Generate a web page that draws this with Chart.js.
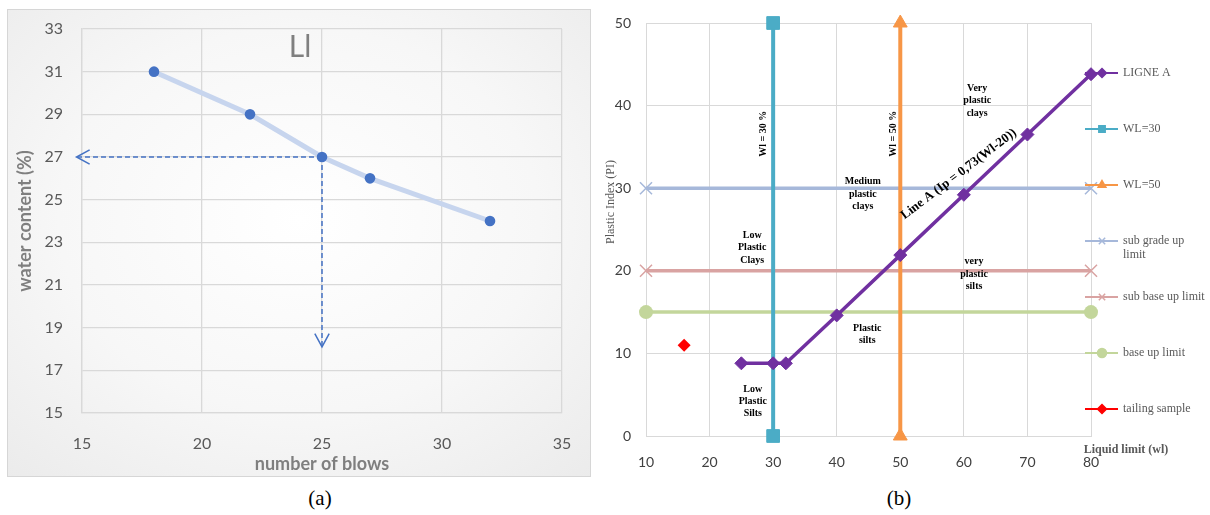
<!DOCTYPE html>
<html>
<head>
<meta charset="utf-8">
<script src="https://cdn.jsdelivr.net/npm/chart.js@4.4.1/dist/chart.umd.min.js"></script>
<style>
  html, body { margin: 0; padding: 0; background: #fff; }
  body { width: 1210px; height: 515px; position: relative; overflow: hidden; }
  #boxA {
    position: absolute; left: 7px; top: 9px; width: 584px; height: 468px;
    box-sizing: border-box; border: 1px solid #d6d6d6;
    background: radial-gradient(ellipse 75% 75% at 50% 45%, #ffffff 0%, #f7f7f7 55%, #ebebeb 100%);
  }
  #chartA { position: absolute; left: 0; top: 0; }
  #chartB { position: absolute; left: 600px; top: 0; }
  .cap { position: absolute; top: 486px; font: 21px "Liberation Serif", serif; color: #000; width: 60px; text-align: center; }
</style>
</head>
<body>
<div id="boxA"><canvas id="chartA" width="582" height="466"></canvas></div>
<canvas id="chartB" width="610" height="480"></canvas>
<div class="cap" style="left:290px">(a)</div>
<div class="cap" style="left:869px">(b)</div>
<script>
// ---- chart (a) data: liquid limit test
const blowsX = [18, 22, 25, 27, 32];
const waterY = [31, 29, 27, 26, 24];
const arrowHx = [25, 14.77];
const arrowHy = [27, 27];
const arrowVx = [25, 25];
const arrowVy = [27, 18.1];

// ---- chart (b) data: plasticity chart
const ligneAx = [25, 30, 32, 40, 50, 60, 70, 80];
const ligneAy = [8.8, 8.8, 8.8, 14.6, 21.9, 29.2, 36.5, 43.8];
const wl30x = [30, 30];
const wl30y = [0, 50];
const wl50x = [50, 50];
const wl50y = [0, 50];
const limitX = [10, 80];
const subGradeY = [30, 30];
const subBaseY = [20, 20];
const baseY = [15, 15];
const tailingX = [16];
const tailingY = [11];

const pts = (xs, ys) => xs.map((x, i) => ({ x: x, y: ys[i] }));

Chart.defaults.font.family = 'Lato';
Chart.defaults.animation = false;

// gap between axis and tick labels done with invisible tick marks,
// so the label padding does not eat into the plot area
const gridOpts = (w, gap) => ({ color: '#d9d9d9', lineWidth: w, drawTicks: true, tickLength: gap, tickColor: 'rgba(0,0,0,0)' });

// title + arrow heads for (a)
const chartAExtras = {
    id: 'chartAExtras',
    afterDatasetsDraw(chart) {
        const ctx = chart.ctx;
        ctx.save();
        ctx.fillStyle = '#7f7f7f';
        ctx.font = '400 30px Lato';
        ctx.textAlign = 'center';
        ctx.textBaseline = 'middle';
        ctx.fillText('Ll', 292, 37);

        ctx.strokeStyle = '#4472c4';
        ctx.lineWidth = 1.5;
        [1, 2].forEach(function (i) {
            const p = chart.getDatasetMeta(i).data;
            const tip = p[p.length - 1], prev = p[p.length - 2];
            const ang = Math.atan2(tip.y - prev.y, tip.x - prev.x);
            const L = 15, a = 0.5;
            ctx.beginPath();
            ctx.moveTo(tip.x - L * Math.cos(ang - a), tip.y - L * Math.sin(ang - a));
            ctx.lineTo(tip.x, tip.y);
            ctx.lineTo(tip.x - L * Math.cos(ang + a), tip.y - L * Math.sin(ang + a));
            ctx.stroke();
        });
        ctx.restore();
    }
};

new Chart(document.getElementById('chartA'), {
    type: 'scatter',
    data: {
        datasets: [{
            data: pts(blowsX, waterY),
            showLine: true,
            borderColor: '#c7d5ee',
            borderWidth: 5,
            pointRadius: 5.3,
            pointBackgroundColor: '#4472c4',
            pointBorderWidth: 0
        }, {
            data: pts(arrowHx, arrowHy),
            showLine: true,
            borderColor: '#4472c4',
            borderWidth: 1.5,
            borderDash: [5, 3],
            pointRadius: 0,
            clip: false
        }, {
            data: pts(arrowVx, arrowVy),
            showLine: true,
            borderColor: '#4472c4',
            borderWidth: 1.5,
            borderDash: [5, 3],
            pointRadius: 0,
            clip: false
        }]
    },
    options: {
        responsive: false,
        devicePixelRatio: 1,
        layout: { padding: { top: 19, right: 28, left: 0, bottom: 0 } },
        plugins: { legend: { display: false }, tooltip: { enabled: false } },
        scales: {
            x: {
                type: 'linear', min: 15, max: 35,
                ticks: { stepSize: 5, padding: 0, color: '#595959', font: { size: 16 } },
                grid: gridOpts(1.3, 21),
                border: { color: '#d9d9d9', width: 1.3 },
                title: { display: true, text: 'number of blows', color: '#7f7f7f',
                    font: { size: 18, weight: 'bold' }, padding: { top: 0, bottom: 1 } },
                afterFit(s) { s.height = 63; }
            },
            y: {
                type: 'linear', min: 15, max: 33,
                ticks: { stepSize: 2, padding: 0, color: '#595959', font: { size: 16 } },
                grid: gridOpts(1.3, 19),
                border: { color: '#d9d9d9', width: 1.3 },
                title: { display: true, text: 'water content (%)', color: '#7f7f7f',
                    font: { size: 18, weight: 'bold' }, padding: { top: 6, bottom: 0 } },
                afterFit(s) { s.width = 74; }
            }
        }
    },
    plugins: [chartAExtras]
});

// zone labels, axis titles and side legend for (b)
const chartBExtras = {
    id: 'chartBExtras',
    afterDatasetsDraw(chart) {
        const ctx = chart.ctx;
        const x = chart.scales.x, y = chart.scales.y;
        ctx.save();
        ctx.fillStyle = '#000';
        ctx.textAlign = 'center';
        ctx.textBaseline = 'middle';
        ctx.font = 'bold 10px "Liberation Serif"';
        const block = function (lines, vx, vy) {
            const px = x.getPixelForValue(vx), py = y.getPixelForValue(vy);
            lines.forEach(function (t, i) {
                ctx.fillText(t, px, py + (i - (lines.length - 1) / 2) * 12.3);
            });
        };
        block(['Very', 'plastic', 'clays'], 62.1, 40.6);
        block(['Medium', 'plastic', 'clays'], 44.1, 29.3);
        block(['Low', 'Plastic', 'Clays'], 26.7, 22.8);
        block(['very', 'plastic', 'silts'], 61.6, 19.6);
        block(['Plastic', 'silts'], 44.8, 12.3);
        block(['Low', 'Plastic', 'Silts'], 26.8, 4.2);

        const rot = function (text, vx, vy, ang, font) {
            ctx.save();
            ctx.translate(x.getPixelForValue(vx), y.getPixelForValue(vy));
            ctx.rotate(ang);
            ctx.font = font;
            ctx.fillText(text, 0, 0);
            ctx.restore();
        };
        rot('Wl = 30 %', 28.4, 36.6, -Math.PI / 2, 'bold 10px "Liberation Serif"');
        rot('Wl = 50 %', 48.9, 36.6, -Math.PI / 2, 'bold 10px "Liberation Serif"');
        rot('Line A (Ip = 0,73(Wl-20))', 59.2, 31.7, -0.65, 'bold 13px "Liberation Serif"');
        ctx.restore();
    },
    afterDraw(chart) {
        const ctx = chart.ctx;
        ctx.save();
        // axis titles
        ctx.fillStyle = '#595959';
        ctx.textAlign = 'center';
        ctx.textBaseline = 'middle';
        ctx.font = 'bold 12px "Liberation Serif"';
        ctx.fillText('Liquid limit (wl)', 526, 450);
        ctx.save();
        ctx.translate(11, 202);
        ctx.rotate(-Math.PI / 2);
        ctx.font = '12px "Liberation Serif"';
        ctx.fillText('Plastic Index (PI)', 0, 0);
        ctx.restore();

        // legend
        ctx.textAlign = 'left';
        ctx.font = '12px "Liberation Serif"';
        chart.data.datasets.forEach(function (ds, i) {
            const ly = 73 + 56 * i;
            ctx.strokeStyle = ds.borderColor;
            ctx.lineWidth = 2;
            ctx.setLineDash([]);
            ctx.beginPath();
            ctx.moveTo(485, ly);
            ctx.lineTo(518, ly);
            ctx.stroke();
            ctx.fillStyle = ds.borderColor;
            ctx.lineWidth = 1.5;
            Chart.helpers.drawPoint(ctx, { pointStyle: ds.pointStyle, radius: 4.5, rotation: 0, borderWidth: 1.5 }, 502, ly);
            ctx.fillStyle = '#595959';
            // wrap long labels
            const words = ds.label.split(' ');
            const lines = [];
            let cur = '';
            words.forEach(function (w) {
                const t = cur ? cur + ' ' + w : w;
                if (ctx.measureText(t).width > 84 && cur) { lines.push(cur); cur = w; } else cur = t;
            });
            lines.push(cur);
            lines.forEach(function (t, k) { ctx.fillText(t, 523, ly + 14 * k); });
        });
        ctx.restore();
    }
};

new Chart(document.getElementById('chartB'), {
    type: 'scatter',
    data: {
        datasets: [{
            label: 'LIGNE A', data: pts(ligneAx, ligneAy), showLine: true,
            borderColor: '#7030a0', backgroundColor: '#7030a0', borderWidth: 3.5,
            pointStyle: 'rectRot', pointRadius: 6.5, pointBorderWidth: 1, clip: false
        }, {
            label: 'WL=30', data: pts(wl30x, wl30y), showLine: true,
            borderColor: '#4bacc6', backgroundColor: '#4bacc6', borderWidth: 4,
            pointStyle: 'rect', pointRadius: 9, pointBorderWidth: 1, clip: false
        }, {
            label: 'WL=50', data: pts(wl50x, wl50y), showLine: true,
            borderColor: '#f79646', backgroundColor: '#f79646', borderWidth: 4,
            pointStyle: 'triangle', pointRadius: 8, pointBorderWidth: 1, clip: false
        }, {
            label: 'sub grade up limit', data: pts(limitX, subGradeY), showLine: true,
            borderColor: '#a6b8da', backgroundColor: '#a6b8da', borderWidth: 3.5,
            pointStyle: 'crossRot', pointRadius: 8.5, pointBorderWidth: 1.5, clip: false
        }, {
            label: 'sub base up limit', data: pts(limitX, subBaseY), showLine: true,
            borderColor: '#d9a3a2', backgroundColor: '#d9a3a2', borderWidth: 3.5,
            pointStyle: 'crossRot', pointRadius: 8.5, pointBorderWidth: 1.5, clip: false
        }, {
            label: 'base up limit', data: pts(limitX, baseY), showLine: true,
            borderColor: '#c3d69b', backgroundColor: '#c3d69b', borderWidth: 3.5,
            pointStyle: 'circle', pointRadius: 7, pointBorderWidth: 0, clip: false
        }, {
            label: 'tailing sample', data: pts(tailingX, tailingY), showLine: false,
            borderColor: '#ff0000', backgroundColor: '#ff0000', borderWidth: 2,
            pointStyle: 'rectRot', pointRadius: 6.5, pointBorderWidth: 0, clip: false
        }]
    },
    options: {
        responsive: false,
        devicePixelRatio: 1,
        layout: { padding: { top: 23, right: 119, left: 0, bottom: 0 } },
        plugins: { legend: { display: false }, tooltip: { enabled: false } },
        scales: {
            x: {
                type: 'linear', min: 10, max: 80,
                ticks: { stepSize: 10, padding: 0, color: '#404040', font: { size: 14 } },
                grid: gridOpts(1, 18),
                border: { color: '#d9d9d9', width: 1 },
                afterFit(s) { s.height = 44; }
            },
            y: {
                type: 'linear', min: 0, max: 50,
                ticks: { stepSize: 10, padding: 0, color: '#404040', font: { size: 14 } },
                grid: gridOpts(1, 15),
                border: { color: '#d9d9d9', width: 1 },
                afterFit(s) { s.width = 46; }
            }
        }
    },
    plugins: [chartBExtras]
});
</script>
</body>
</html>
